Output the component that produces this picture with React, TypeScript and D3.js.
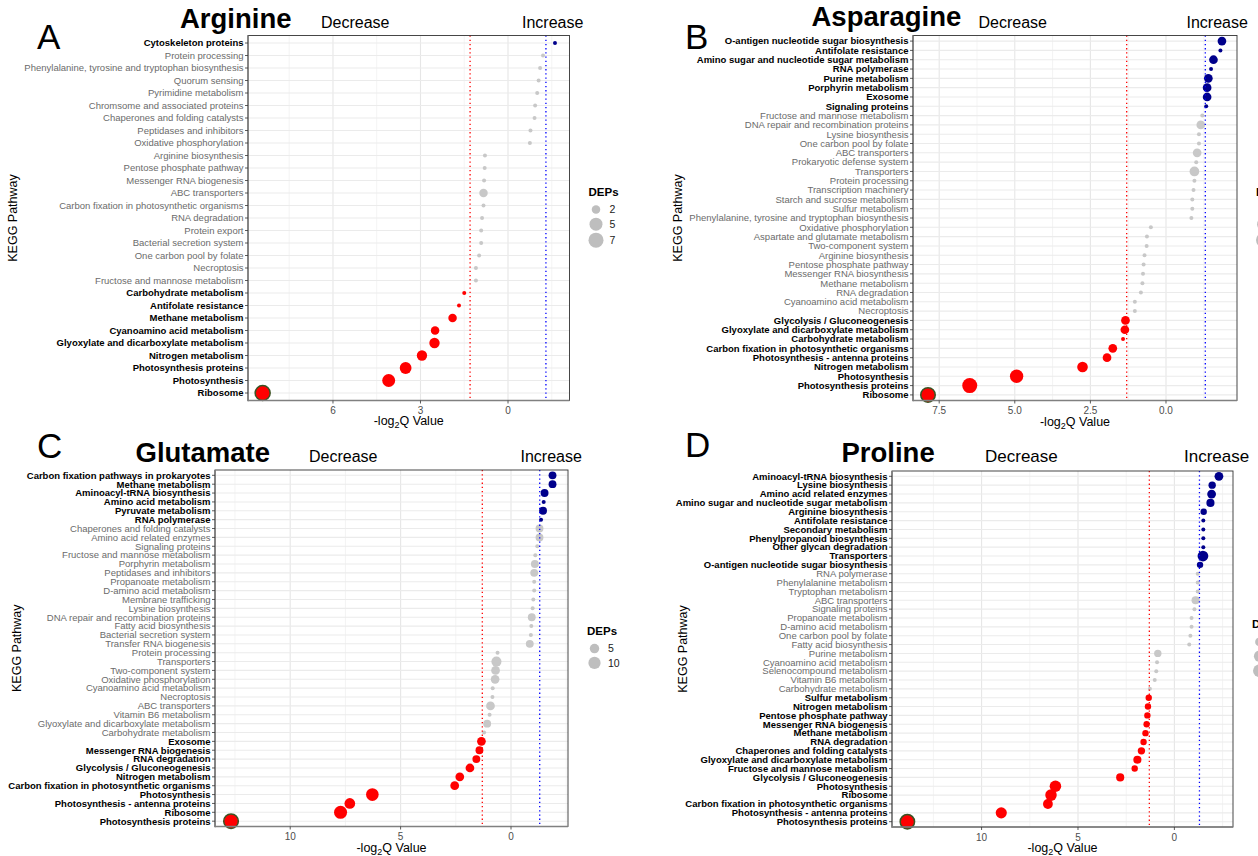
import React from "react";
import * as d3 from "d3";

type Status = "up" | "ns" | "down";

// ---------------- Panel A : Arginine ----------------
const argininePathways = [
  "Cytoskeleton proteins", "Protein processing", "Phenylalanine, tyrosine and tryptophan biosynthesis",
  "Quorum sensing", "Pyrimidine metabolism", "Chromsome and associated proteins",
  "Chaperones and folding catalysts", "Peptidases and inhibitors", "Oxidative phosphorylation",
  "Arginine biosynthesis", "Pentose phosphate pathway", "Messenger RNA biogenesis", "ABC transporters",
  "Carbon fixation in photosynthetic organisms", "RNA degradation", "Protein export",
  "Bacterial secretion system", "One carbon pool by folate", "Necroptosis",
  "Fructose and mannose metabolism", "Carbohydrate metabolism", "Antifolate resistance",
  "Methane metabolism", "Cyanoamino acid metabolism", "Glyoxylate and dicarboxylate metabolism",
  "Nitrogen metabolism", "Photosynthesis proteins", "Photosynthesis", "Ribosome",
];
const arginineValues = [
  -1.61, -1.2, -1.1, -1.05, -1.0, -0.93, -0.91, -0.77, -0.75, 0.79, 0.8, 0.82, 0.84, 0.84, 0.89,
  0.92, 0.92, 0.99, 1.1, 1.1, 1.5, 1.68, 1.9, 2.5, 2.52, 2.95, 3.51, 4.09, 8.41,
];
const arginineDEPs = [1, 1, 1, 1, 1, 1, 1, 1, 1, 1, 1, 1, 2, 1, 1, 1, 1, 1, 1, 1, 1, 1, 2, 2, 3, 3, 4, 5, 7];
const arginineStatus: Status[] = [
  "up", "ns", "ns", "ns", "ns", "ns", "ns", "ns", "ns", "ns", "ns", "ns", "ns", "ns", "ns", "ns", "ns",
  "ns", "ns", "ns", "down", "down", "down", "down", "down", "down", "down", "down", "down",
];
const arginineTicks = [6, 3, 0];
const arginineTickLabels = ["6", "3", "0"];
const arginineMinor = [7.5, 4.5, 1.5, -1.5];
const arginineLegend = [2, 5, 7];

// ---------------- Panel B : Asparagine ----------------
const asparaginePathways = [
  "O-antigen nucleotide sugar biosynthesis", "Antifolate resistance", "Amino sugar and nucleotide sugar metabolism",
  "RNA polymerase", "Purine metabolism", "Porphyrin metabolism", "Exosome", "Signaling proteins",
  "Fructose and mannose metabolism", "DNA repair and recombination proteins", "Lysine biosynthesis",
  "One carbon pool by folate", "ABC transporters", "Prokaryotic defense system", "Transporters",
  "Protein processing", "Transcription machinery", "Starch and sucrose metabolism", "Sulfur metabolism",
  "Phenylalanine, tyrosine and tryptophan biosynthesis", "Oxidative phosphorylation",
  "Aspartate and glutamate metabolism", "Two-component system", "Arginine biosynthesis",
  "Pentose phosphate pathway", "Messenger RNA biosynthesis", "Methane metabolism", "RNA degradation",
  "Cyanoamino acid metabolism", "Necroptosis", "Glycolysis / Gluconeogenesis",
  "Glyoxylate and dicarboxylate metabolism", "Carbohydrate metabolism",
  "Carbon fixation in photosynthetic organisms", "Photosynthesis - antenna proteins", "Nitrogen metabolism",
  "Photosynthesis", "Photosynthesis proteins", "Ribosome",
];
const asparagineValues = [
  -1.85, -1.8, -1.57, -1.49, -1.4, -1.36, -1.36, -1.33, -1.2, -1.15, -1.09, -1.09, -1.03, -1.0, -0.94,
  -0.94, -0.91, -0.87, -0.87, -0.84, 0.5, 0.63, 0.64, 0.71, 0.74, 0.76, 0.78, 0.83, 1.03, 1.03, 1.34,
  1.36, 1.42, 1.76, 1.95, 2.76, 4.94, 6.49, 7.87,
];
const asparagineDEPs = [
  3, 1, 3, 1, 3, 3, 3, 1, 1, 3, 1, 1, 3, 1, 4, 1, 1, 1, 1, 1, 1, 1, 1, 1, 1, 1, 1, 1, 1, 1, 3, 3, 1, 3,
  3, 5, 9, 12, 11,
];
const asparagineStatus: Status[] = [
  "up", "up", "up", "up", "up", "up", "up", "up",
  "ns", "ns", "ns", "ns", "ns", "ns", "ns", "ns", "ns", "ns", "ns", "ns", "ns", "ns", "ns", "ns", "ns",
  "ns", "ns", "ns", "ns", "ns",
  "down", "down", "down", "down", "down", "down", "down", "down", "down",
];
const asparagineTicks = [7.5, 5, 2.5, 0];
const asparagineTickLabels = ["7.5", "5.0", "2.5", "0.0"];
const asparagineMinor = [6.25, 3.75, 1.25, -1.25];
const asparagineLegend = [4, 8, 12];

// ---------------- Panel C : Glutamate ----------------
const glutamatePathways = [
  "Carbon fixation pathways in prokaryotes", "Methane metabolism", "Aminoacyl-tRNA biosynthesis",
  "Amino acid metabolism", "Pyruvate metabolism", "RNA polymerase", "Chaperones and folding catalysts",
  "Amino acid related enzymes", "Signaling proteins", "Fructose and mannose metabolism",
  "Porphyrin metabolism", "Peptidases and inhibitors", "Propanoate metabolism", "D-amino acid metabolism",
  "Membrane trafficking", "Lysine biosynthesis", "DNA repair and recombination proteins",
  "Fatty acid biosynthesis", "Bacterial secretion system", "Transfer RNA biogenesis", "Protein processing",
  "Transporters", "Two-component system", "Oxidative phosphorylation", "Cyanoamino acid metabolism",
  "Necroptosis", "ABC transporters", "Vitamin B6 metabolism", "Glyoxylate and dicarboxylate metabolism",
  "Carbohydrate metabolism", "Exosome", "Messenger RNA biogenesis", "RNA degradation",
  "Glycolysis / Gluconeogenesis", "Nitrogen metabolism", "Carbon fixation in photosynthetic organisms",
  "Photosynthesis", "Photosynthesis - antenna proteins", "Ribosome", "Photosynthesis proteins",
];
const glutamateValues = [
  -1.88, -1.88, -1.52, -1.48, -1.45, -1.36, -1.29, -1.29, -1.19, -1.1, -1.08, -1.05, -1.05, -1.05, -1.01,
  -0.98, -0.94, -0.92, -0.9, -0.85, 0.61, 0.66, 0.7, 0.72, 0.83, 0.84, 0.93, 0.97, 1.08, 1.22, 1.34,
  1.43, 1.57, 1.86, 2.32, 2.55, 6.28, 7.3, 7.72, 12.68,
];
const glutamateDEPs = [
  3, 3, 3, 1, 3, 1, 3, 3, 1, 1, 3, 3, 1, 1, 1, 1, 3, 1, 1, 3, 1, 6, 4, 4, 1, 1, 4, 1, 3, 1, 4, 3, 3, 4,
  4, 4, 11, 7, 12, 16,
];
const glutamateStatus: Status[] = [
  "up", "up", "up", "up", "up", "up",
  "ns", "ns", "ns", "ns", "ns", "ns", "ns", "ns", "ns", "ns", "ns", "ns", "ns", "ns", "ns", "ns", "ns",
  "ns", "ns", "ns", "ns", "ns", "ns", "ns",
  "down", "down", "down", "down", "down", "down", "down", "down", "down", "down",
];
const glutamateTicks = [10, 5, 0];
const glutamateTickLabels = ["10", "5", "0"];
const glutamateMinor = [12.5, 7.5, 2.5, -2.5];
const glutamateLegend = [5, 10];

// ---------------- Panel D : Proline ----------------
const prolinePathways = [
  "Aminoacyl-tRNA biosynthesis", "Lysine biosynthesis", "Amino acid related enzymes",
  "Amino sugar and nucleotide sugar metabolism", "Arginine biosynthesis", "Antifolate resistance",
  "Secondary metabolism", "Phenylpropanoid biosynthesis", "Other glycan degradation", "Transporters",
  "O-antigen nucleotide sugar biosynthesis", "RNA polymerase", "Phenylalanine metabolism",
  "Tryptophan metabolism", "ABC transporters", "Signaling proteins", "Propanoate metabolism",
  "D-amino acid metabolism", "One carbon pool by folate", "Fatty acid biosynthesis", "Purine metabolism",
  "Cyanoamino acid metabolism", "Selenocompound metabolism", "Vitamin B6 metabolism",
  "Carbohydrate metabolism", "Sulfur metabolism", "Nitrogen metabolism", "Pentose phosphate pathway",
  "Messenger RNA biogenesis", "Methane metabolism", "RNA degradation", "Chaperones and folding catalysts",
  "Glyoxylate and dicarboxylate metabolism", "Fructose and mannose metabolism",
  "Glycolysis / Gluconeogenesis", "Photosynthesis", "Ribosome", "Carbon fixation in photosynthetic organisms",
  "Photosynthesis - antenna proteins", "Photosynthesis proteins",
];
const prolineValues = [
  -2.31, -1.96, -1.93, -1.87, -1.52, -1.5, -1.5, -1.5, -1.5, -1.48, -1.33, -1.21, -1.21, -1.21, -1.1,
  -1.04, -0.89, -0.89, -0.83, -0.77, 0.86, 0.9, 0.94, 1.02, 1.27, 1.33, 1.37, 1.4, 1.44, 1.5, 1.6, 1.71,
  1.92, 2.06, 2.81, 6.17, 6.4, 6.56, 8.98, 13.85,
];
const prolineDEPs = [
  5, 3, 5, 4, 2, 1, 1, 1, 1, 9, 2, 1, 1, 1, 4, 1, 1, 1, 1, 1, 3, 1, 1, 1, 1, 2, 2, 2, 2, 2, 2, 3, 4, 2,
  4, 11, 11, 7, 10, 20,
];
const prolineStatus: Status[] = [
  "up", "up", "up", "up", "up", "up", "up", "up", "up", "up", "up",
  "ns", "ns", "ns", "ns", "ns", "ns", "ns", "ns", "ns", "ns", "ns", "ns", "ns", "ns",
  "down", "down", "down", "down", "down", "down", "down", "down", "down", "down", "down", "down", "down",
  "down", "down",
];
const prolineTicks = [10, 5, 0];
const prolineTickLabels = ["10", "5", "0"];
const prolineMinor = [12.5, 7.5, 2.5, -2.5];
const prolineLegend = [5, 10, 15];

const THRESHOLD = 1.3;

// ---------------- layout ----------------
const FONT = "'Liberation Sans', Arial, Helvetica, sans-serif";
const R_MIN = 2;

const panels = [
  {
    letter: "A", title: "Arginine",
    pathways: argininePathways, values: arginineValues, deps: arginineDEPs, status: arginineStatus,
    ticks: arginineTicks, tickLabels: arginineTickLabels, minor: arginineMinor, legend: arginineLegend,
    left: 248, right: 569.5, top: 35.5, bottom: 400.5, domain: [8.913, -2.108], rMax: 7.5,
    letterPos: [37, 49], titlePos: [180, 27.5], decPos: [321, 27.5], incPos: [522, 27.5], dirSize: 16,
    yTitleX: 13, xTitleY: 425,
  },
  {
    letter: "B", title: "Asparagine",
    pathways: asparaginePathways, values: asparagineValues, deps: asparagineDEPs, status: asparagineStatus,
    ticks: asparagineTicks, tickLabels: asparagineTickLabels, minor: asparagineMinor, legend: asparagineLegend,
    left: 913, right: 1237, top: 35.5, bottom: 400.5, domain: [8.366, -2.348], rMax: 7.5,
    letterPos: [685, 49], titlePos: [811.5, 25.5], decPos: [978.5, 27.5], incPos: [1186.5, 27.5], dirSize: 16,
    yTitleX: 678, xTitleY: 426,
  },
  {
    letter: "C", title: "Glutamate",
    pathways: glutamatePathways, values: glutamateValues, deps: glutamateDEPs, status: glutamateStatus,
    ticks: glutamateTicks, tickLabels: glutamateTickLabels, minor: glutamateMinor, legend: glutamateLegend,
    left: 215, right: 568, top: 470, bottom: 826.5, domain: [13.406, -2.581], rMax: 7.3,
    letterPos: [37, 458], titlePos: [135.5, 462], decPos: [309, 462], incPos: [520.5, 462], dirSize: 16,
    yTitleX: 17, xTitleY: 852,
  },
  {
    letter: "D", title: "Proline",
    pathways: prolinePathways, values: prolineValues, deps: prolineDEPs, status: prolineStatus,
    ticks: prolineTicks, tickLabels: prolineTickLabels, minor: prolineMinor, legend: prolineLegend,
    left: 892, right: 1233, top: 471, bottom: 827, domain: [14.647, -3.04], rMax: 7.2,
    letterPos: [685, 457], titlePos: [841.5, 462], decPos: [985, 462], incPos: [1184, 462], dirSize: 17,
    yTitleX: 683, xTitleY: 852,
  },
];

const COLORS: Record<Status, string> = { up: "#00008B", ns: "#C8C8C8", down: "#FF0000" };

function Panel({ p }: { p: (typeof panels)[number] }) {
  const x = d3.scaleLinear().domain(p.domain).range([p.left, p.right]);
  const idx = d3.range(p.pathways.length);
  const y = d3.scalePoint<number>().domain(idx).range([p.top, p.bottom]).padding(0.6);
  const nMax = d3.max(p.deps) as number;
  const rs = d3.scaleSqrt().domain([0, nMax - 1]).range([0, p.rMax - R_MIN]);
  const r = (n: number) => R_MIN + rs(Math.max(0, n - 1));
  const maxIdx = d3.maxIndex(p.values);
  const cx = (p.left + p.right) / 2;
  const cy = (p.top + p.bottom) / 2;

  // legend layout
  const keyH = p.legend.map((n) => Math.max(14.3, 2 * r(n) + 2));
  const block = 15 + d3.sum(keyH);
  const blockTop = cy - block / 2;
  let acc = blockTop + 15;
  const keyY = keyH.map((h) => {
    const c = acc + h / 2;
    acc += h;
    return c;
  });

  return (
    <g>
      {/* headings */}
      <text x={p.letterPos[0]} y={p.letterPos[1]} fontSize={35} fill="#000">{p.letter}</text>
      <text x={p.titlePos[0]} y={p.titlePos[1]} fontSize={27.5} fontWeight="bold" fill="#000">{p.title}</text>
      <text x={p.decPos[0]} y={p.decPos[1]} fontSize={p.dirSize} fill="#000">Decrease</text>
      <text x={p.incPos[0]} y={p.incPos[1]} fontSize={p.dirSize} fill="#000">Increase</text>

      {/* panel background & grid */}
      <rect x={p.left} y={p.top} width={p.right - p.left} height={p.bottom - p.top} fill="#fff" />
      {p.minor.map((v) => (
        <line key={"mi" + v} x1={x(v)} x2={x(v)} y1={p.top} y2={p.bottom} stroke="#EFEFEF" strokeWidth={0.7} />
      ))}
      {p.ticks.map((v) => (
        <line key={"ma" + v} x1={x(v)} x2={x(v)} y1={p.top} y2={p.bottom} stroke="#E6E6E6" strokeWidth={1.1} />
      ))}
      {idx.map((i) => (
        <line key={"h" + i} x1={p.left} x2={p.right} y1={y(i)} y2={y(i)} stroke="#EBEBEB" strokeWidth={1.1} />
      ))}

      {/* points */}
      {idx.map((i) => (
        <circle
          key={"c" + i}
          cx={x(p.values[i])}
          cy={y(i)}
          r={r(p.deps[i])}
          fill={COLORS[p.status[i]]}
          stroke={i === maxIdx ? "#3B5323" : "none"}
          strokeWidth={i === maxIdx ? 1.5 : 0}
        />
      ))}

      {/* threshold lines */}
      <line x1={x(THRESHOLD)} x2={x(THRESHOLD)} y1={p.top} y2={p.bottom} stroke="#FF0000" strokeWidth={1.3} strokeDasharray="1.3 2.9" />
      <line x1={x(-THRESHOLD)} x2={x(-THRESHOLD)} y1={p.top} y2={p.bottom} stroke="#0000FF" strokeWidth={1.3} strokeDasharray="1.3 2.9" />

      {/* border */}
      <rect x={p.left} y={p.top} width={p.right - p.left} height={p.bottom - p.top} fill="none" stroke="#333" strokeWidth={0.9} />
      <line x1={p.left} x2={p.left} y1={p.top} y2={p.bottom + 0.8} stroke="#808080" strokeWidth={1.7} />
      <line x1={p.left} x2={p.right} y1={p.bottom} y2={p.bottom} stroke="#808080" strokeWidth={1.7} />

      {/* y axis */}
      {idx.map((i) => (
        <g key={"yl" + i}>
          <line x1={p.left - 3} x2={p.left} y1={y(i)} y2={y(i)} stroke="#333" strokeWidth={0.8} />
          <text
            x={p.left - 4.5}
            y={y(i)}
            dy="0.35em"
            textAnchor="end"
            fontSize={9.5}
            fontWeight={p.status[i] === "ns" ? "normal" : "bold"}
            fill={p.status[i] === "ns" ? "#6B6B6B" : "#000"}
          >
            {p.pathways[i]}
          </text>
        </g>
      ))}
      <text
        transform={`translate(${p.yTitleX},${cy}) rotate(-90)`}
        textAnchor="middle"
        dominantBaseline="central"
        fontSize={12.5}
        fill="#000"
      >
        KEGG Pathway
      </text>

      {/* x axis */}
      {p.ticks.map((v, k) => (
        <g key={"xt" + v}>
          <line x1={x(v)} x2={x(v)} y1={p.bottom} y2={p.bottom + 3} stroke="#333" strokeWidth={0.8} />
          <text x={x(v)} y={p.bottom + 13.5} textAnchor="middle" fontSize={10} fill="#4D4D4D">
            {p.tickLabels[k]}
          </text>
        </g>
      ))}
      <text x={cx} y={p.xTitleY} textAnchor="middle" fontSize={12.5} fill="#000">
        <tspan>-log</tspan>
        <tspan fontSize={9} dy={3}>2</tspan>
        <tspan dy={-3}>Q Value</tspan>
      </text>

      {/* size legend */}
      <text x={p.right + 19} y={blockTop + 8.5} fontSize={11.5} fontWeight="bold" fill="#000">DEPs</text>
      {p.legend.map((n, k) => (
        <g key={"lg" + n}>
          <circle cx={p.right + 26.5} cy={keyY[k]} r={r(n)} fill="#BEBEBE" />
          <text x={p.right + 40} y={keyY[k]} dy="0.35em" fontSize={10.5} fill="#1A1A1A">{n}</text>
        </g>
      ))}
    </g>
  );
}

export default function App() {
  return (
    <svg
      width={1258}
      height={856}
      style={{ position: "absolute", left: 0, top: 0, background: "#fff" }}
      fontFamily={FONT}
    >
      <rect x={0} y={0} width={1258} height={856} fill="#fff" />
      {panels.map((p) => (
        <Panel key={p.letter} p={p} />
      ))}
    </svg>
  );
}
